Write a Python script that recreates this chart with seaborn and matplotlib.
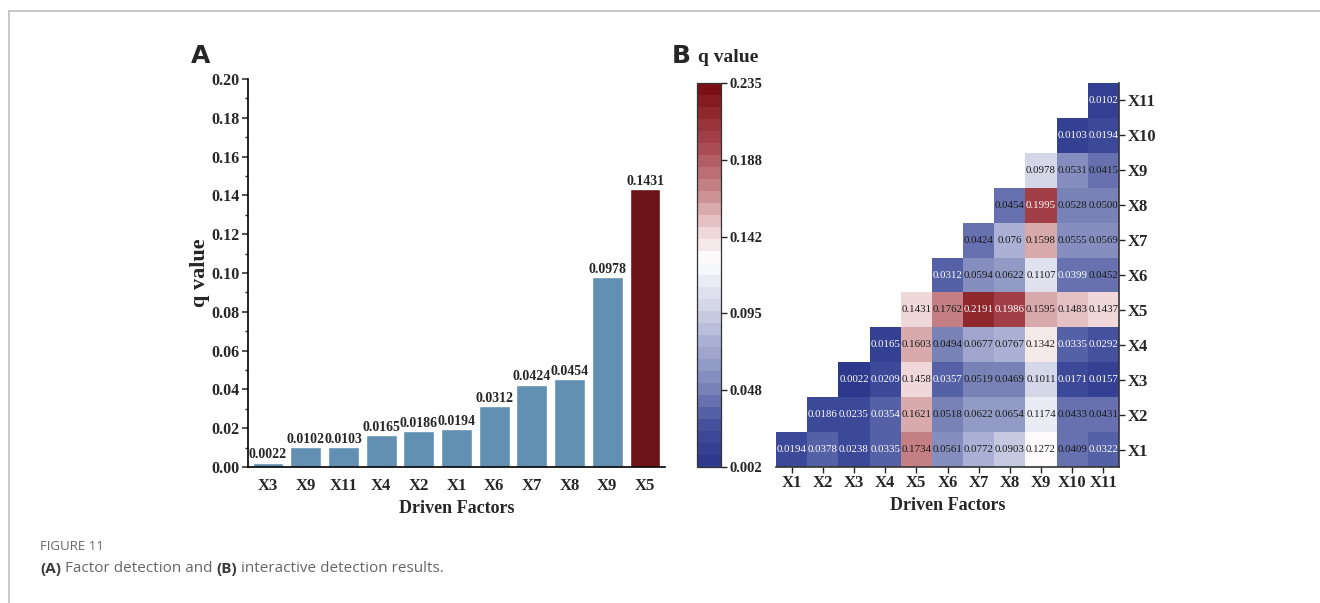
import numpy as np
import pandas as pd
import matplotlib
matplotlib.use("Agg")
import matplotlib.pyplot as plt
from matplotlib.colors import LinearSegmentedColormap
from matplotlib.lines import Line2D
import seaborn as sns

# ---- panel A: factor detection ----
bar_labels = ["X3", "X9", "X11", "X4", "X2", "X1", "X6", "X7", "X8", "X9", "X5"]
bar_q = [0.0022, 0.0102, 0.0103, 0.0165, 0.0186, 0.0194, 0.0312, 0.0424, 0.0454, 0.0978, 0.1431]

# ---- panel B: interaction detection (row factor Xi, columns Xi..X11) ----
factors = ["X1", "X2", "X3", "X4", "X5", "X6", "X7", "X8", "X9", "X10", "X11"]
row_X1 = ["0.0194", "0.0378", "0.0238", "0.0335", "0.1734", "0.0561", "0.0772", "0.0903", "0.1272", "0.0409", "0.0322"]
row_X2 = ["0.0186", "0.0235", "0.0354", "0.1621", "0.0518", "0.0622", "0.0654", "0.1174", "0.0433", "0.0431"]
row_X3 = ["0.0022", "0.0209", "0.1458", "0.0357", "0.0519", "0.0469", "0.1011", "0.0171", "0.0157"]
row_X4 = ["0.0165", "0.1603", "0.0494", "0.0677", "0.0767", "0.1342", "0.0335", "0.0292"]
row_X5 = ["0.1431", "0.1762", "0.2191", "0.1986", "0.1595", "0.1483", "0.1437"]
row_X6 = ["0.0312", "0.0594", "0.0622", "0.1107", "0.0399", "0.0452"]
row_X7 = ["0.0424", "0.076", "0.1598", "0.0555", "0.0569"]
row_X8 = ["0.0454", "0.1995", "0.0528", "0.0500"]
row_X9 = ["0.0978", "0.0531", "0.0415"]
row_X10 = ["0.0103", "0.0194"]
row_X11 = ["0.0102"]
rows = [row_X1, row_X2, row_X3, row_X4, row_X5, row_X6, row_X7, row_X8, row_X9, row_X10, row_X11]

q_min, q_max = 0.002, 0.235
cbar_ticklabels = ["0.002", "0.048", "0.095", "0.142", "0.188", "0.235"]

# build matrix, top row = X11
n = len(factors)
vals = np.full((n, n), np.nan)
txt = np.full((n, n), "", dtype=object)
for i, r in enumerate(rows):
    for k, s in enumerate(r):
        vals[i, i + k] = float(s)
        txt[i, i + k] = s
order = factors[::-1]
df = pd.DataFrame(vals[::-1], index=order, columns=factors)
annot = txt[::-1]
mask = np.isnan(df.values)

sns.set_style("white")
plt.rcParams["font.family"] = ["Liberation Serif", "DejaVu Serif"]
plt.rcParams["font.weight"] = "bold"

fig = plt.figure(figsize=(13.2, 6.03), dpi=100)
W, H = 1320, 603

def box(l, t, r, b):
    return [l / W, 1 - b / H, (r - l) / W, (b - t) / H]

# page frame lines
fig.add_artist(Line2D([9 / W, 1], [1 - 11 / H, 1 - 11 / H], color="#c4c4c4", lw=1.3))
fig.add_artist(Line2D([9 / W, 9 / W], [0, 1 - 11 / H], color="#c4c4c4", lw=1.3))

# ---- bars ----
ax1 = fig.add_axes(box(248, 79, 665, 467))
colors = ["#6190b3"] * (len(bar_q) - 1) + ["#6b1317"]
sns.barplot(x=np.arange(len(bar_q)), y=bar_q, hue=np.arange(len(bar_q)), palette=colors,
            legend=False, width=0.82, saturation=1, ax=ax1)
for c in ax1.containers:
    ax1.bar_label(c, fmt="%.4f", padding=1, fontsize=10, fontweight="bold")
ax1.set_xlim(-0.53, 10.53)
ax1.set_ylim(0, 0.20)
ax1.set_yticks(np.arange(0, 0.201, 0.02))
ax1.set_yticks(np.arange(0.01, 0.2, 0.02), minor=True)
ax1.set_yticklabels([f"{v:.2f}" for v in np.arange(0, 0.201, 0.02)], fontsize=11.5, fontweight="bold")
ax1.set_xticks(np.arange(len(bar_labels)))
ax1.set_xticklabels(bar_labels, fontsize=12, fontweight="bold")
ax1.tick_params(axis="y", which="major", direction="out", length=4, width=1.1, left=True, pad=2)
ax1.tick_params(axis="y", which="minor", direction="out", length=2.5, width=1, left=True)
ax1.tick_params(axis="x", length=0, pad=8)
for s in ["top", "right"]:
    ax1.spines[s].set_visible(False)
for s in ["left", "bottom"]:
    ax1.spines[s].set_color("black")
    ax1.spines[s].set_linewidth(1.2)
ax1.set_xlabel("Driven Factors", fontsize=13, fontweight="bold", labelpad=4)
ax1.set_ylabel("q value", fontsize=16, fontweight="bold", labelpad=1)

# ---- heatmap ----
cmap = LinearSegmentedColormap.from_list(
    "qmap",
    [(0.0, "#2c398d"), (0.1, "#45529e"), (0.2, "#7c85b9"), (0.32, "#aab0d4"),
     (0.42, "#d3d7e8"), (0.54, "#ffffff"), (0.62, "#eed4d6"), (0.72, "#c98a8d"),
     (0.86, "#a5434a"), (1.0, "#7a1015")], N=32)
ax2 = fig.add_axes(box(776, 83, 1119, 467))
cax = fig.add_axes(box(697, 83, 721, 467))
sns.heatmap(df, mask=mask, cmap=cmap, vmin=q_min, vmax=q_max, annot=annot, fmt="",
            annot_kws={"fontsize": 7.8, "fontweight": "normal"}, cbar=True, cbar_ax=cax,
            linewidths=0, square=False, ax=ax2)
for t in ax2.texts:
    v = float(t.get_text())
    t.set_color("white" if (v < 0.04 or v > 0.19) else "#1a1a1a")
ax2.yaxis.tick_right()
ax2.set_yticklabels(order, rotation=0, fontsize=12, fontweight="bold")
ax2.set_xticklabels(factors, rotation=0, fontsize=12, fontweight="bold")
ax2.tick_params(axis="both", direction="out", length=4, width=1, pad=2)
ax2.tick_params(axis="x", bottom=True)
ax2.tick_params(axis="y", right=True, left=False)
for s in ["right", "bottom"]:
    ax2.spines[s].set_visible(True)
    ax2.spines[s].set_color("#333333")
    ax2.spines[s].set_linewidth(1.2)
ax2.set_xlabel("Driven Factors", fontsize=13, fontweight="bold", labelpad=4)
ax2.set_ylabel("")

cbar = ax2.collections[0].colorbar
cbar.set_ticks(np.linspace(q_min, q_max, 6))
cbar.set_ticklabels(cbar_ticklabels)
cax.tick_params(direction="out", length=4, width=1, labelsize=10.5, pad=2)
for lab in cax.get_yticklabels():
    lab.set_fontweight("bold")
cbar.outline.set_visible(True)
cbar.outline.set_edgecolor("#333333")
cbar.outline.set_linewidth(0.9)

# panel letters and titles
fig.text(201 / W, 1 - 56 / H, "A", fontsize=18, fontweight="bold", family="DejaVu Sans",
         ha="center", va="center")
fig.text(681 / W, 1 - 56 / H, "B", fontsize=18, fontweight="bold", family="DejaVu Sans",
         ha="center", va="center")
fig.text(728 / W, 1 - 58 / H, "q value", fontsize=14, fontweight="bold", ha="center", va="center")

# caption
fig.text(40 / W, 1 - 547 / H, "FIGURE 11", fontsize=9.5, color="#666666", family="Open Sans",
         fontweight="normal", va="center")
cap_y = 1 - 569 / H
t1 = fig.text(40 / W, cap_y, "(A)", fontsize=11, color="#3a3a3a", family="Open Sans",
              fontweight="bold", va="center")
fig.canvas.draw()
r = fig.canvas.get_renderer()
def after(t):
    bb = t.get_window_extent(r)
    return bb.x1 / fig.bbox.width
t2 = fig.text(after(t1), cap_y, " Factor detection and ", fontsize=11, color="#666666",
              family="Open Sans", fontweight="normal", va="center")
t3 = fig.text(after(t2), cap_y, "(B)", fontsize=11, color="#3a3a3a", family="Open Sans",
              fontweight="bold", va="center")
fig.text(after(t3), cap_y, " interactive detection results.", fontsize=11, color="#666666",
         family="Open Sans", fontweight="normal", va="center")

fig.savefig("out.png", dpi=100)
